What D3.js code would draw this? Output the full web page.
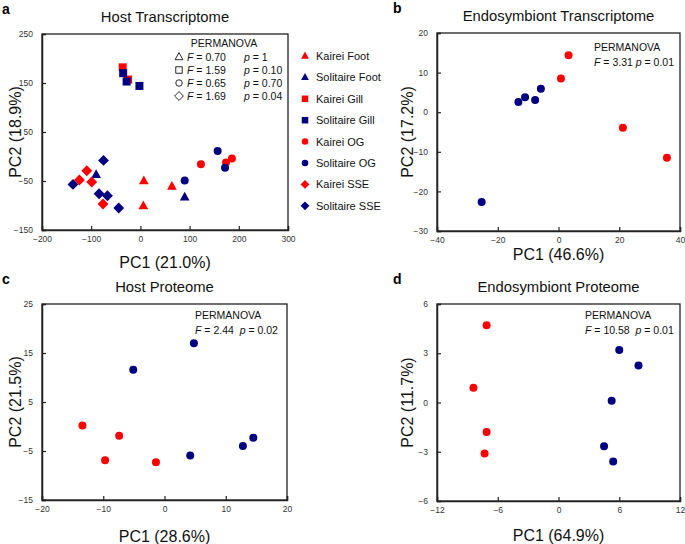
<!DOCTYPE html>
<html><head><meta charset="utf-8">
<script src="https://cdn.jsdelivr.net/npm/d3@7"></script>
<style>
body{margin:0;background:#fff;}
svg{display:block;font-family:"Liberation Sans",Arial,sans-serif;}
</style></head>
<body><svg id="c" width="685" height="544"></svg>
<script>
// ---------- DATA ----------
// Panel a: Host Transcriptome (PC1, PC2)
const kaireiFoot    = [[7,-50],[64,-61],[6,-101]];
const solitaireFoot = [[-90,-37],[90,-83]];
const kaireiGill    = [[-36,182],[-25,157]];
const solitaireGill = [[-35,170],[-28,153],[-2,144]];
const kaireiOG      = [[123,-16],[186,-4],[174,-12]];
const solitaireOG   = [[157,11],[172,-23],[90,-49]];
const kaireiSSE     = [[-109,-29],[-124,-48],[-99,-52],[-76,-97]];
const solitaireSSE  = [[-75,-8],[-137,-57],[-84,-76],[-67,-80],[-44,-105]];
const legendLabels  = ["Kairei Foot","Solitaire Foot","Kairei Gill","Solitaire Gill","Kairei OG","Solitaire OG","Kairei SSE","Solitaire SSE"];
const permShapes = ["triangle","square","circle","diamond"];
const permF = ["0.70","1.59","0.65","1.69"];
const permP = ["1","0.10","0.70","0.04"];
// Panel b: Endosymbiont Transcriptome
const kaireiB    = [[3.3,14.4],[0.8,8.5],[21.2,-3.9],[35.7,-11.5]];
const solitaireB = [[-5.8,5.9],[-7.7,3.1],[-11.0,3.8],[-13.2,2.6],[-25.3,-22.7]];
// Panel c: Host Proteome
const kaireiC    = [[-13.4,0.2],[-7.4,-1.9],[-9.7,-6.9],[-1.4,-7.3]];
const solitaireC = [[4.8,17.0],[-5.1,11.6],[4.2,-5.9],[12.8,-4.0],[14.5,-2.3]];
// Panel d: Endosymbiont Proteome
const kaireiD    = [[-7.1,4.7],[-8.4,0.9],[-7.1,-1.8],[-7.3,-3.1]];
const solitaireD = [[6.0,3.2],[7.9,2.25],[5.25,0.1],[4.5,-2.66],[5.4,-3.6]];
// Axis ticks
const ticksA = {x:[-200,-100,0,100,200,300], y:[-150,-50,50,150,250]};
const ticksB = {x:[-40,-20,0,20,40], y:[-30,-20,-10,0,10,20]};
const ticksC = {x:[-20,-10,0,10,20], y:[-15,-5,5,15,25]};
const ticksD = {x:[-12,-6,0,6,12], y:[-6,-3,0,3,6]};

const RED = "#ff0000", BLUE = "#000080";
const svg = d3.select("#c");

function shapePath(type, s) {
  const h = s/2;
  if (type === "triangle") {
    const t = s*1.1; return `M0,${-t*0.62}L${t*0.55},${t*0.38}L${-t*0.55},${t*0.38}Z`;
  }
  if (type === "square") return `M${-h},${-h}H${h}V${h}H${-h}Z`;
  if (type === "diamond") { const d = s*0.68; return `M0,${-d}L${d},0L0,${d}L${-d},0Z`; }
  return d3.symbol(d3.symbolCircle, Math.PI*h*h)();
}

function panel(cfg) {
  const g = svg.append("g");
  const x = d3.scaleLinear().domain(cfg.xd).range([cfg.l, cfg.r]);
  const y = d3.scaleLinear().domain(cfg.yd).range([cfg.b, cfg.t]);
  g.append("rect").attr("x",cfg.l).attr("y",cfg.t).attr("width",cfg.r-cfg.l).attr("height",cfg.b-cfg.t)
    .attr("fill","none").attr("stroke","#222").attr("stroke-width",1.3);
  const xa = g.append("g").attr("transform",`translate(0,${cfg.b})`)
    .call(d3.axisBottom(x).tickValues(cfg.ticks.x).tickSize(-4).tickPadding(6).tickFormat(d3.format("d")));
  const ya = g.append("g").attr("transform",`translate(${cfg.l},0)`)
    .call(d3.axisLeft(y).tickValues(cfg.ticks.y).tickSize(-4).tickPadding(9).tickFormat(d3.format("d")));
  [xa,ya].forEach(a=>{
    a.select(".domain").attr("stroke","#222").attr("stroke-width",1.5);
    a.selectAll(".tick line").attr("stroke","#222").attr("stroke-width",1.2);
    a.selectAll(".tick text").attr("font-size",8.5).attr("fill","#333").attr("font-family","Liberation Sans, Arial");
  });
  xa.selectAll(".tick text").attr("dy","0.71em");
  cfg.series.forEach(s=>{
    g.append("g").selectAll("path").data(s.data).join("path")
      .attr("transform",d=>`translate(${x(d[0])},${y(d[1])})`)
      .attr("d",shapePath(s.shape, s.size||8))
      .attr("fill",s.color);
  });
  g.append("text").attr("x",(cfg.l+cfg.r)/2).attr("y",cfg.t-12).attr("text-anchor","middle")
    .attr("font-size",14.8).attr("fill","#111").text(cfg.title);
  g.append("text").attr("x",cfg.letterX).attr("y",cfg.t-20).attr("font-size",14).attr("font-weight","bold")
    .attr("fill","#000").text(cfg.letter);
  g.append("text").attr("x",(cfg.l+cfg.r)/2).attr("y",cfg.xlabY).attr("text-anchor","middle")
    .attr("font-size",16).attr("fill","#111").text(cfg.xlab);
  g.append("text").attr("transform",`translate(${cfg.ylabX},${(cfg.t+cfg.b)/2}) rotate(-90)`).attr("text-anchor","middle")
    .attr("font-size",16).attr("fill","#111").text(cfg.ylab);
  return {g,x,y};
}

// Panel a
const pa = panel({l:42,r:288,t:34,b:230,xd:[-200,300],yd:[-150,250],ticks:ticksA,
  title:"Host Transcriptome",letter:"a",letterX:2,xlab:"PC1 (21.0%)",xlabY:268,ylab:"PC2 (18.9%)",ylabX:21,
  series:[
    {data:kaireiFoot,color:RED,shape:"triangle"},
    {data:solitaireFoot,color:BLUE,shape:"triangle"},
    {data:kaireiGill,color:RED,shape:"square"},
    {data:solitaireGill,color:BLUE,shape:"square"},
    {data:kaireiOG,color:RED,shape:"circle"},
    {data:solitaireOG,color:BLUE,shape:"circle"},
    {data:kaireiSSE,color:RED,shape:"diamond"},
    {data:solitaireSSE,color:BLUE,shape:"diamond"}
  ]});
{
  const g = pa.g;
  g.append("text").attr("x",224).attr("y",47).attr("text-anchor","middle").attr("font-size",10.5).attr("fill","#111").text("PERMANOVA");
  permShapes.forEach((s,i)=>{
    const yy = 60.5 + i*13;
    g.append("path").attr("transform",`translate(179,${yy-3.5})`).attr("d",shapePath(s,6.5))
      .attr("fill","none").attr("stroke","#111").attr("stroke-width",0.9);
    const t = g.append("text").attr("x",187).attr("y",yy).attr("font-size",10.5).attr("fill","#111");
    t.append("tspan").attr("font-style","italic").text("F");
    t.append("tspan").text(" = " + permF[i]);
    const t2 = g.append("text").attr("x",244).attr("y",yy).attr("font-size",10.5).attr("fill","#111");
    t2.append("tspan").attr("font-style","italic").text("p");
    t2.append("tspan").text(" = " + permP[i]);
  });
  const shapes = ["triangle","triangle","square","square","circle","circle","diamond","diamond"];
  legendLabels.forEach((lab,i)=>{
    const yy = 56 + i*21.4;
    g.append("path").attr("transform",`translate(305,${yy})`).attr("d",shapePath(shapes[i],6.5))
      .attr("fill", i%2===0?RED:BLUE);
    g.append("text").attr("x",316).attr("y",yy+4).attr("font-size",11).attr("fill","#111").text(lab);
  });
}

function permBox(p, x, y, F, P, gap) {
  p.g.append("text").attr("x",x).attr("y",y).attr("font-size",10.5).attr("fill","#111").text("PERMANOVA");
  const t = p.g.append("text").attr("x",x).attr("y",y+15).attr("font-size",10.5).attr("fill","#111").attr("xml:space","preserve");
  t.append("tspan").attr("font-style","italic").text("F");
  t.append("tspan").text(" = " + F + gap);
  t.append("tspan").attr("font-style","italic").text("p");
  t.append("tspan").text(" = " + P);
}

const pb = panel({l:437,r:680,t:33,b:231,xd:[-40,40],yd:[-30,20],ticks:ticksB,
  title:"Endosymbiont Transcriptome",letter:"b",letterX:393,xlab:"PC1 (46.6%)",xlabY:260,ylab:"PC2 (17.2%)",ylabX:413,
  series:[{data:kaireiB,color:RED,shape:"circle"},{data:solitaireB,color:BLUE,shape:"circle"}]});
permBox(pb, 594, 51, "3.31", "0.01", " ");

const pc = panel({l:42,r:287,t:304,b:500,xd:[-20,20],yd:[-15,25],ticks:ticksC,
  title:"Host Proteome",letter:"c",letterX:2,xlab:"PC1 (28.6%)",xlabY:542,ylab:"PC2 (21.5%)",ylabX:21,
  series:[{data:kaireiC,color:RED,shape:"circle"},{data:solitaireC,color:BLUE,shape:"circle"}]});
permBox(pc, 195, 319, "2.44", "0.02", "  ");

const pd = panel({l:437,r:680,t:304,b:501,xd:[-12,12],yd:[-6,6],ticks:ticksD,
  title:"Endosymbiont Proteome",letter:"d",letterX:393,xlab:"PC1 (64.9%)",xlabY:541,ylab:"PC2 (11.7%)",ylabX:413,
  series:[{data:kaireiD,color:RED,shape:"circle"},{data:solitaireD,color:BLUE,shape:"circle"}]});
permBox(pd, 585, 319, "10.58", "0.01", "  ");
</script></body></html>
